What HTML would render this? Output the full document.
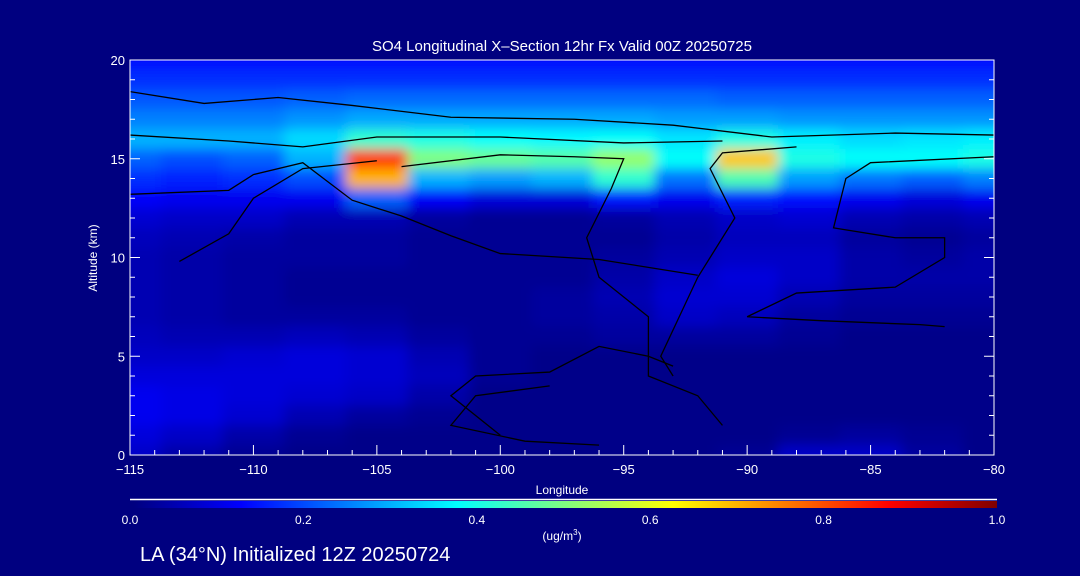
<!DOCTYPE html>
<html><head><meta charset="utf-8"><style>
html,body{margin:0;padding:0;background:#000080;}
svg{display:block;font-family:"Liberation Sans",sans-serif;}
text{fill:#fff;}
</style></head><body>
<svg id="chart" width="1080" height="576" viewBox="0 0 1080 576">
<defs>
<clipPath id="plotclip"><rect x="130" y="60" width="864" height="395"/></clipPath>
<filter id="blur" x="-10%" y="-10%" width="120%" height="120%"><feGaussianBlur stdDeviation="6"/></filter>
<linearGradient id="jet" x1="0" x2="1" y1="0" y2="0">
<stop offset="0" stop-color="#00007f"/><stop offset="0.125" stop-color="#0000ff"/><stop offset="0.375" stop-color="#00ffff"/><stop offset="0.625" stop-color="#ffff00"/><stop offset="0.875" stop-color="#ff0000"/><stop offset="1" stop-color="#7f0000"/>
</linearGradient>
</defs>
<rect x="0" y="0" width="1080" height="576" fill="#000080"/>
<text x="562" y="51" font-size="15" text-anchor="middle">SO4 Longitudinal X–Section 12hr  Fx Valid 00Z 20250725</text>
<g clip-path="url(#plotclip)">
<rect x="130" y="60" width="864" height="395" fill="#000088"/>
<g id="cells" filter="url(#blur)"></g>
<g id="contours" fill="none" stroke="#000" stroke-width="1.3"></g>
</g>
<g id="axes"></g>
<text x="562" y="494" font-size="12" text-anchor="middle">Longitude</text>
<text transform="translate(97,258) rotate(-90)" font-size="12" text-anchor="middle">Altitude (km)</text>
<line x1="130" y1="499.5" x2="997" y2="499.5" stroke="#fff" stroke-width="1.5"/>
<rect x="133" y="501" width="864" height="7" fill="url(#jet)"/>
<g id="cbticks"></g>
<text x="562" y="540" font-size="12" text-anchor="middle">(ug/m<tspan font-size="8" dy="-5">3</tspan><tspan dy="5">)</tspan></text>
<text x="140" y="561" font-size="20">LA (34°N) Initialized 12Z 20250724</text>
</svg>
<script>
const lons = [-115,-112.5,-110,-107.5,-105,-102.5,-100,-97.5,-95,-92.5,-90,-87.5,-85,-82.5,-80];
const alts = [20,19,18,17,16,15,14,13,12,11,10,9,8,7,6,5,4,3,2,1,0];
const so4 = [
[0.14,0.14,0.14,0.14,0.14,0.14,0.14,0.14,0.14,0.14,0.14,0.14,0.14,0.14,0.14],
[0.17,0.17,0.17,0.17,0.17,0.17,0.17,0.17,0.17,0.17,0.17,0.17,0.17,0.17,0.17],
[0.21,0.21,0.21,0.22,0.23,0.23,0.23,0.23,0.23,0.23,0.22,0.22,0.22,0.22,0.22],
[0.25,0.25,0.25,0.27,0.29,0.29,0.29,0.29,0.29,0.28,0.28,0.27,0.27,0.27,0.27],
[0.3,0.3,0.3,0.34,0.42,0.4,0.38,0.37,0.38,0.35,0.4,0.36,0.34,0.35,0.36],
[0.22,0.2,0.22,0.3,0.82,0.5,0.48,0.46,0.52,0.38,0.68,0.4,0.38,0.38,0.4],
[0.17,0.16,0.17,0.2,0.7,0.3,0.28,0.3,0.42,0.24,0.45,0.28,0.24,0.22,0.25],
[0.12,0.11,0.11,0.11,0.22,0.12,0.09,0.09,0.15,0.11,0.16,0.14,0.11,0.09,0.11],
[0.08,0.07,0.07,0.05,0.05,0.03,0.02,0.02,0.03,0.05,0.07,0.08,0.05,0.04,0.05],
[0.06,0.05,0.04,0.03,0.03,0.02,0.02,0.02,0.02,0.04,0.06,0.06,0.03,0.02,0.03],
[0.05,0.04,0.03,0.03,0.03,0.02,0.02,0.02,0.03,0.05,0.07,0.07,0.04,0.03,0.04],
[0.05,0.04,0.03,0.02,0.02,0.02,0.02,0.02,0.04,0.07,0.09,0.07,0.04,0.04,0.04],
[0.05,0.04,0.03,0.02,0.02,0.02,0.02,0.03,0.05,0.08,0.08,0.05,0.03,0.03,0.03],
[0.05,0.04,0.03,0.03,0.03,0.02,0.02,0.03,0.04,0.07,0.06,0.03,0.02,0.02,0.02],
[0.06,0.05,0.05,0.06,0.05,0.03,0.02,0.02,0.03,0.03,0.03,0.02,0.01,0.01,0.01],
[0.07,0.07,0.08,0.09,0.08,0.05,0.02,0.01,0.01,0.01,0.01,0.01,0.01,0.01,0.01],
[0.09,0.09,0.09,0.09,0.08,0.06,0.02,0.01,0.01,0.01,0.01,0.01,0.01,0.01,0.01],
[0.11,0.1,0.09,0.08,0.07,0.04,0.01,0.01,0.01,0.01,0.01,0.01,0.01,0.01,0.01],
[0.11,0.1,0.08,0.05,0.03,0.02,0.01,0.01,0.01,0.01,0.01,0.01,0.01,0.01,0.01],
[0.09,0.07,0.04,0.02,0.01,0.01,0.01,0.01,0.01,0.01,0.01,0.02,0.03,0.02,0.01],
[0.07,0.04,0.02,0.01,0.01,0.01,0.01,0.01,0.01,0.01,0.02,0.07,0.07,0.03,0.01]
];
const xTicks = [-115,-110,-105,-100,-95,-90,-85,-80];
const yTicks = [0,5,10,15,20];
const cbTicks = [0.0,0.2,0.4,0.6,0.8,1.0];
const contour1 = [[-115,18.4],[-112,17.8],[-109,18.1],[-106,17.7],[-102,17.1],[-97,17],[-93,16.7],[-89,16.1],[-84,16.3],[-80,16.2]];
const contour2 = [[-115,16.2],[-111,15.9],[-108,15.6],[-105,16.1],[-100,16.1],[-95,15.8],[-91,15.9]];
const contour3 = [[-115,13.2],[-111,13.4],[-110,14.2],[-108,14.8],[-106,12.9],[-104,12.1],[-102,11.1],[-100,10.2],[-96,9.9],[-92,9.1]];
const contour4 = [[-113,9.8],[-111,11.2],[-110,13],[-108,14.5],[-105,14.9]];
const contour5 = [[-104,14.6],[-100,15.2],[-97,15.1],[-95,15],[-95.5,13.5],[-96.5,11],[-96,9],[-94,7],[-94,4],[-92,3],[-91,1.5]];
const contour6 = [[-88,15.6],[-91,15.3],[-91.5,14.5],[-90.5,12],[-92,9],[-93.5,5],[-93,4]];
const contour7 = [[-80,15.1],[-85,14.8],[-86,14],[-86.5,11.5],[-84,11],[-82,11],[-82,10],[-84,8.5],[-88,8.2],[-90,7],[-87,6.8],[-83,6.6],[-82,6.5]];
const contour8 = [[-100,1],[-102,3],[-101,4],[-98,4.2],[-96,5.5],[-94,5],[-93,4.5]];
const contour9 = [[-98,3.5],[-101,3],[-102,1.5],[-99,0.7],[-96,0.5]];

const x0=130,x1=994,y0=455,y1=60;
function xs(l){return x0+(l+115)/35*(x1-x0);}
function ys(a){return y0-(a/20)*(y0-y1);}
function jet(v){
  v=Math.max(0,Math.min(1,v));
  const st=[[0,[0,0,127]],[0.125,[0,0,255]],[0.375,[0,255,255]],[0.625,[255,255,0]],[0.875,[255,0,0]],[1,[127,0,0]]];
  for(let i=0;i<st.length-1;i++){if(v<=st[i+1][0]){const t=(v-st[i][0])/(st[i+1][0]-st[i][0]);const a=st[i][1],b=st[i+1][1];return 'rgb('+a.map((c,k)=>Math.round(c+(b[k]-c)*t)).join(',')+')';}}
  return 'rgb(127,0,0)';
}
const NS='http://www.w3.org/2000/svg';
function mk(tag,attrs,parent){const e=document.createElementNS(NS,tag);for(const k in attrs)e.setAttribute(k,attrs[k]);parent.appendChild(e);return e;}
const cells=document.getElementById('cells');
const dx=xs(-112.5)-xs(-115), dy=ys(0)-ys(1);
alts.forEach((a,i)=>{lons.forEach((l,j)=>{
  let cx=xs(l)-dx/2, w=dx, cy=ys(a)-dy/2, h=dy;
  if(j===0){cx-=40;w+=40;} if(j===lons.length-1){w+=40;}
  if(i===0){cy-=40;h+=40;} if(i===alts.length-1){h+=40;}
  const r=mk('rect',{x:cx,y:cy,width:w+0.5,height:h+0.5,fill:jet(so4[i][j])},cells);
  
  
});});
const cg=document.getElementById('contours');
[contour1,contour2,contour3,contour4,contour5,contour6,contour7,contour8,contour9].forEach(c=>{
  const p=mk('polyline',{points:c.map(q=>xs(q[0])+','+ys(q[1])).join(' ')},cg);
  
  
});
const ax=document.getElementById('axes');
const frame=mk('rect',{x:x0,y:y1,width:x1-x0,height:y0-y1,fill:'none',stroke:'#fff','stroke-width':1},ax);


for(let l=-115;l<=-80;l++){
  const big=(l%5===0);
  mk('line',{x1:xs(l),x2:xs(l),y1:y0,y2:y0-(big?10:5),stroke:'#fff'},ax);
}
for(let a=0;a<=20;a++){
  const big=(a%5===0);
  mk('line',{x1:x0,x2:x0+(big?10:5),y1:ys(a),y2:ys(a),stroke:'#fff'},ax);
  mk('line',{x1:x1,x2:x1-(big?10:5),y1:ys(a),y2:ys(a),stroke:'#fff'},ax);
}
xTicks.forEach(l=>{
  const t=mk('text',{x:xs(l),y:y0+19,'font-size':13,'text-anchor':'middle'},ax);
  t.textContent=(l<0?'−':'')+Math.abs(l);
  
  
});
yTicks.forEach(a=>{
  const t=mk('text',{x:x0-5,y:ys(a)+5,'font-size':13,'text-anchor':'end'},ax);
  t.textContent=a;
  
  
});
const cb=document.getElementById('cbticks');
cbTicks.forEach(v=>{
  const t=mk('text',{x:130+v*867,y:524,'font-size':12,'text-anchor':'middle'},cb);
  t.textContent=v.toFixed(1);
  
  
});
</script>
</body></html>
